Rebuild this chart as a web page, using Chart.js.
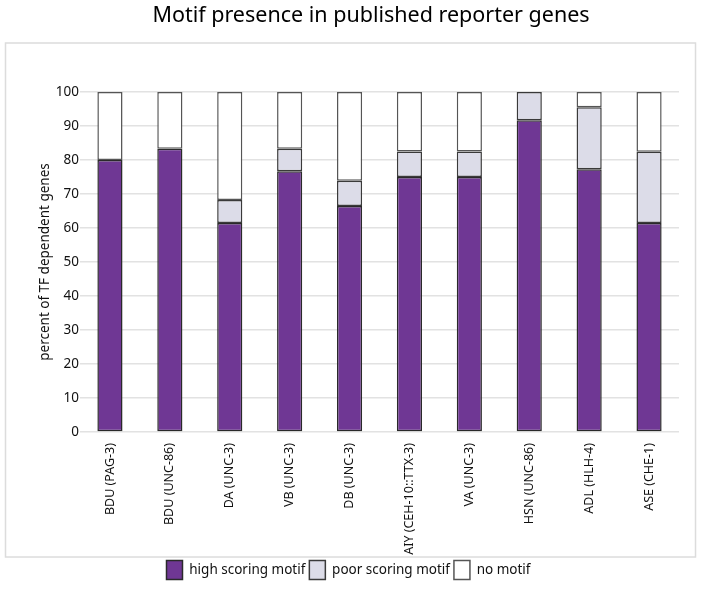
<!DOCTYPE html>
<html>
<head>
<meta charset="utf-8">
<script src="https://cdn.jsdelivr.net/npm/chart.js@4.4.1/dist/chart.umd.min.js"></script>
<style>
  html, body { margin: 0; padding: 0; background: #fff; }
  #wrap { width: 716px; height: 593px; }
</style>
</head>
<body>
<div id="wrap"><canvas id="motifChart" width="716" height="593"></canvas></div>
<script>
const categories = ['BDU (PAG-3)', 'BDU (UNC-86)', 'DA (UNC-3)', 'VB (UNC-3)', 'DB (UNC-3)',
    'AIY (CEH-10::TTX-3)', 'VA (UNC-3)', 'HSN (UNC-86)', 'ADL (HLH-4)', 'ASE (CHE-1)'];
const highScoring = [80, 83.3, 61.5, 76.7, 66.5, 75, 75, 91.7, 77.3, 61.5];
const poorScoring = [0, 0, 6.7, 6.6, 7.4, 7.5, 7.5, 8.3, 18.2, 20.9];
const noMotif = [20, 16.7, 31.8, 16.7, 26.1, 17.5, 17.5, 0, 4.5, 17.6];
const yTicks = [0, 10, 20, 30, 40, 50, 60, 70, 80, 90, 100];

const FONT = 'Noto Sans';

// light grey frame, plus nudging title and legend off the plot-area centre
const framePlugin = {
    id: 'frame',
    afterLayout(chart) {
        const t = chart.titleBlock;
        if (t) { t.left += 63; }
        const lg = chart.legend;
        if (lg) { lg.left += 9; lg.right += 9; }
    },
    beforeDraw(chart) {
        const ctx = chart.ctx;
        ctx.save();
        ctx.fillStyle = '#fff';
        ctx.fillRect(0, 0, chart.width, chart.height);
        ctx.strokeStyle = '#dcdcdc';
        ctx.lineWidth = 1.5;
        ctx.strokeRect(5.5, 43, 690, 514);
        ctx.restore();
    }
};

const seg = (label, data, color, edge) => ({
    label,
    data,
    backgroundColor: color,
    borderColor: edge,
    borderWidth: 1.5,
    borderSkipped: false,
    barPercentage: 0.42,
    categoryPercentage: 1
});

new Chart(document.getElementById('motifChart'), {
    type: 'bar',
    data: {
        labels: categories,
        datasets: [
            seg('high scoring motif', highScoring, '#6f3794', '#2a2a2a'),
            seg('poor scoring motif', poorScoring, '#dcdce8', '#3a3a3a'),
            seg('no motif', noMotif, '#ffffff', '#555555')
        ]
    },
    plugins: [framePlugin],
    options: {
        responsive: false,
        animation: false,
        layout: { padding: { left: 0, right: 37, top: 0, bottom: 3.5 } },
        scales: {
            x: {
                stacked: true,
                grid: { display: false },
                border: { display: false },
                ticks: {
                    color: '#111',
                    font: { family: FONT, size: 12.5 },
                    minRotation: 90,
                    maxRotation: 90,
                    autoSkip: false,
                    padding: 3
                },
                afterFit(scale) { scale.height = 124.5; }
            },
            y: {
                stacked: true,
                min: 0,
                max: 100,
                afterBuildTicks(scale) { scale.ticks = yTicks.map(v => ({ value: v })); },
                grid: { color: '#e2e2e2', lineWidth: 1.5, drawTicks: false },
                border: { display: false },
                ticks: {
                    color: '#111',
                    font: { family: FONT, size: 13.5 },
                    padding: 1
                },
                title: {
                    display: true,
                    text: 'percent of TF dependent genes',
                    color: '#111',
                    font: { family: FONT, size: 13.5 },
                    padding: { top: 37, bottom: 0 }
                },
                afterFit(scale) { scale.width = 80; }
            }
        },
        plugins: {
            title: {
                display: true,
                text: 'Motif presence in published reporter genes',
                color: '#000',
                font: { family: FONT, size: 21.5, weight: 'normal' },
                padding: { top: 3, bottom: 63.2 }
            },
            legend: {
                position: 'bottom',
                labels: {
                    color: '#111',
                    font: { family: FONT, size: 13.5 },
                    boxWidth: 16,
                    boxHeight: 19,
                    padding: 4
                }
            },
            tooltip: { enabled: false }
        }
    }
});
</script>
</body>
</html>
